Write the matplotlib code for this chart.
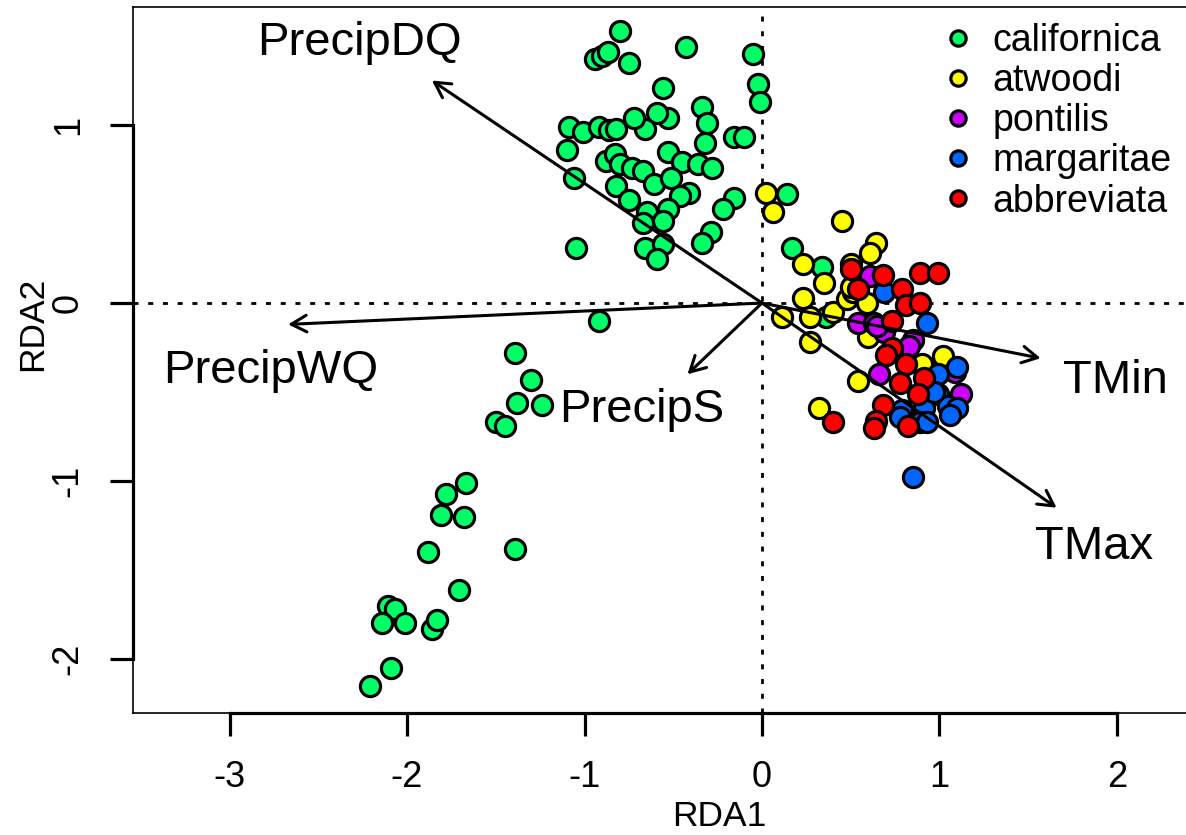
import numpy as np
import matplotlib
matplotlib.use("Agg")
import matplotlib.pyplot as plt
from matplotlib.lines import Line2D

plt.rcParams['font.family'] = ['Liberation Sans', 'DejaVu Sans']
plt.rcParams['axes.unicode_minus'] = False

# site scores (RDA1, RDA2), one pair of lists per species
cal_x = [-0.80, -0.94, -0.90, -0.87, -0.75, -0.43, -0.05, -0.56, -0.02, -0.01,
         -0.34, -0.31, -0.32, -0.53, -0.59, -0.66, -0.72, -1.09, -1.01, -0.92,
         -0.86, -0.82, -1.10, -0.16, -0.10, -0.53, -0.88, -0.83, -0.80, -0.73,
         -0.67, -0.45, -0.36, -0.28, -1.06, -0.82, -0.61, -0.51, -0.41, -0.46,
         -0.75, -0.16, -0.22, -0.65, -0.53, -0.56, -0.67, -0.29, -0.34, -1.05,
         -0.66, -0.56, -0.59, 0.14, 0.17, 0.34, 0.36, -0.92,
         -1.39, -1.30, -1.38, -1.24, -1.50, -1.45, -1.67, -1.78, -1.81, -1.68,
         -1.88, -1.39, -1.71, -2.11, -2.07, -2.14, -2.01, -1.86, -1.83, -2.09,
         -2.21]
cal_y = [1.53, 1.37, 1.39, 1.41, 1.35, 1.44, 1.40, 1.21, 1.23, 1.13,
         1.10, 1.01, 0.90, 1.04, 1.07, 0.98, 1.04, 0.99, 0.96, 0.99,
         0.97, 0.98, 0.86, 0.93, 0.93, 0.85, 0.80, 0.84, 0.78, 0.76,
         0.74, 0.79, 0.78, 0.76, 0.70, 0.66, 0.67, 0.70, 0.62, 0.60,
         0.58, 0.59, 0.53, 0.51, 0.53, 0.46, 0.45, 0.40, 0.34, 0.31,
         0.31, 0.33, 0.25, 0.61, 0.31, 0.20, -0.08, -0.10,
         -0.28, -0.43, -0.56, -0.57, -0.67, -0.69, -1.01, -1.07, -1.19, -1.20,
         -1.40, -1.38, -1.61, -1.70, -1.72, -1.80, -1.80, -1.83, -1.78, -2.05,
         -2.15]

atw_x = [0.02, 0.06, 0.45, 0.64, 0.61, 0.23, 0.35, 0.23, 0.11, 0.27,
         0.40, 0.48, 0.51, 0.59, 0.50, 0.27, 0.60, 0.54, 0.32, 1.02,
         0.90, 0.50]
atw_y = [0.62, 0.51, 0.46, 0.34, 0.28, 0.22, 0.11, 0.03, -0.08, -0.08,
         -0.05, 0.02, 0.06, 0.00, 0.09, -0.22, -0.19, -0.44, -0.59, -0.30,
         -0.34, 0.22]

pon_x = [0.54, 0.63, 0.69, 0.85, 0.65, 0.66, 1.12, 1.09, 0.61, 0.83]
pon_y = [-0.11, -0.11, -0.16, -0.21, -0.13, -0.40, -0.51, -0.39, 0.15, -0.24]

mar_x = [0.93, 0.69, 1.10, 0.99, 0.99, 1.05, 0.91, 0.79, 0.89, 1.10,
         0.93, 1.06, 0.97, 0.78, 0.85]
mar_y = [-0.11, 0.06, -0.36, -0.40, -0.51, -0.58, -0.59, -0.60, -0.67, -0.59,
         -0.67, -0.63, -0.50, -0.64, -0.98]

abb_x = [0.50, 0.68, 0.89, 0.99, 0.54, 0.79, 0.81, 0.89, 0.73, 0.73,
         0.70, 0.81, 0.91, 0.88, 0.78, 0.68, 0.64, 0.63, 0.82, 0.40]
abb_y = [0.19, 0.16, 0.17, 0.17, 0.08, 0.08, -0.01, 0.00, -0.10, -0.25,
         -0.29, -0.34, -0.42, -0.51, -0.45, -0.57, -0.66, -0.70, -0.69, -0.67]

species = ['californica', 'atwoodi', 'pontilis', 'margaritae', 'abbreviata']
colors = ['#00FF66', '#FFFF00', '#CC00FF', '#0066FF', '#FF0000']

# environmental biplot arrows and where their labels sit
env_names = ['PrecipDQ', 'PrecipWQ', 'PrecipS', 'TMin', 'TMax']
env_x = [-1.86, -2.67, -0.42, 1.57, 1.66]
env_y = [1.25, -0.12, -0.40, -0.31, -1.15]
lab_x = [-2.27, -2.77, -0.68, 1.99, 1.87]
lab_y = [1.46, -0.38, -0.60, -0.44, -1.37]

W, H = 1186, 835
fig = plt.figure(figsize=(W / 100, H / 100), dpi=100)
ax = fig.add_axes([133 / W, (H - 713) / H, 1 - 133 / W, (713 - 7) / H])

ax.axhline(0, color='black', lw=2, ls=(0, (1.8, 3.5)), zorder=1)
ax.axvline(0, color='black', lw=2, ls=(0, (1.8, 3.5)), zorder=1)

groups = [(cal_x, cal_y), (atw_x, atw_y), (pon_x, pon_y), (mar_x, mar_y), (abb_x, abb_y)]
for (gx, gy), c in zip(groups, colors):
    ax.scatter(gx, gy, s=210, c=c, edgecolors='black', linewidths=2.3, zorder=3)

for name, x, y, lx, ly in zip(env_names, env_x, env_y, lab_x, lab_y):
    ax.annotate('', xy=(x, y), xytext=(0, 0),
                arrowprops=dict(arrowstyle='->,head_length=0.55,head_width=0.3',
                                mutation_scale=20, lw=2.2, color='black',
                                shrinkA=0, shrinkB=0), zorder=4)
    ax.text(lx, ly, name, fontsize=34, ha='center', va='center', zorder=5)

ax.set_xlim(-3.544, 2.389)
ax.set_ylim(-2.303, 1.663)

for s in ['left', 'bottom', 'top']:
    ax.spines[s].set_linewidth(1.2)
ax.spines['right'].set_visible(False)
# heavier axis lines between first and last tick, like R's axis()
ax.plot([-3, 2], [-2.303, -2.303], color='black', lw=2.3, clip_on=False, zorder=6)
ax.plot([-3.544, -3.544], [-2, 1], color='black', lw=2.3, clip_on=False, zorder=6)

ax.set_xticks([-3, -2, -1, 0, 1, 2])
ax.set_yticks([-2, -1, 0, 1])
ax.tick_params(direction='out', length=16.5, width=2.3, labelsize=26, pad=17.5)
for t in ax.get_yticklabels():
    t.set_rotation(90)
    t.set_va('center')

fig.text(719 / W, 1 - 826 / H, 'RDA1', fontsize=25.5, ha='center', va='baseline')
fig.text(42 / W, 1 - 324 / H, 'RDA2', fontsize=25.5, rotation=90,
         rotation_mode='anchor', ha='center', va='baseline')

handles = [Line2D([], [], marker='o', ls='none', markersize=11, markerfacecolor=c,
                  markeredgecolor='black', markeredgewidth=2.3) for c in colors]
fig.legend(handles, species, loc='upper left', bbox_to_anchor=(943 / W, 1 - 23 / H),
           frameon=False, fontsize=27, handlelength=0.8, handletextpad=0.53,
           labelspacing=0.11, borderpad=0, borderaxespad=0)

fig.savefig('out.png', dpi=100)
